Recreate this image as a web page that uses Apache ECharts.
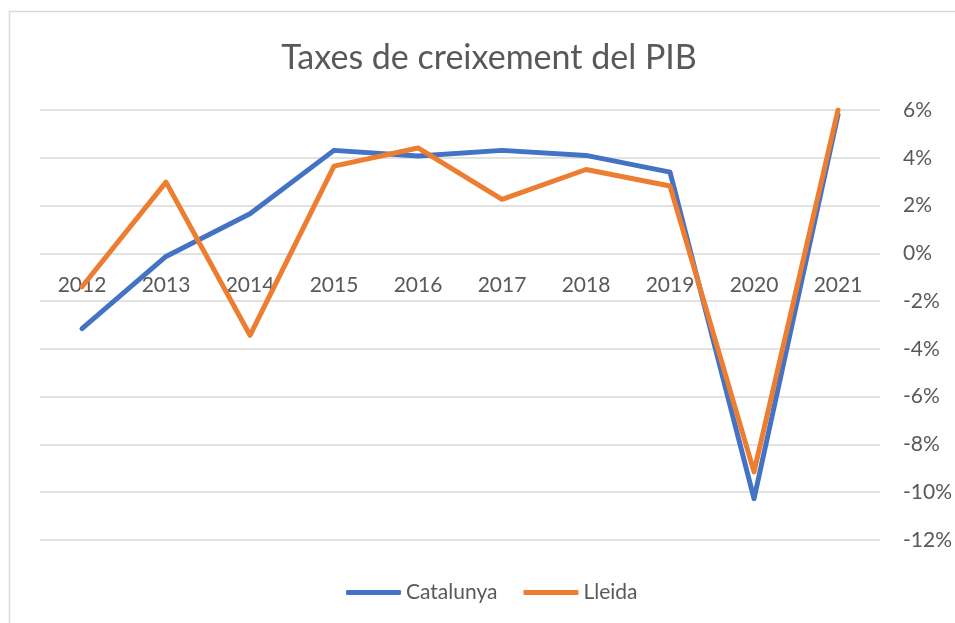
<!DOCTYPE html>
<html>
<head>
<meta charset="utf-8">
<script src="https://cdn.jsdelivr.net/npm/echarts@6/dist/echarts.min.js"></script>
<style>
  html, body { margin: 0; padding: 0; background: #fff; }
  #main { width: 955px; height: 623px; }
</style>
</head>
<body>
<div id="main"></div>
<script>
  const years = ['2012', '2013', '2014', '2015', '2016', '2017', '2018', '2019', '2020', '2021'];
  const catalunya = [-3.15, -0.13, 1.66, 4.31, 4.07, 4.31, 4.1, 3.4, -10.27, 5.8];
  const lleida = [-1.4, 2.98, -3.43, 3.65, 4.41, 2.26, 3.51, 2.82, -9.15, 6.0];

  const textColor = '#595959';
  const font = 'Lato, Carlito, Calibri, sans-serif';

  const myChart = echarts.init(document.getElementById('main'));

  // grid box: top 110, bottom 540 -> 0% line sits 6/18 of the way down
  const gridTop = 110, gridHeight = 430;
  const zeroOffset = -(gridHeight * 12 / 18);

  const option = {
    animation: false,
    textStyle: { fontFamily: font },
    graphic: [
      {
        type: 'rect',
        shape: { x: 9.5, y: 11.5, width: 1000, height: 700 },
        style: { fill: 'none', stroke: '#d9d9d9', lineWidth: 1.5 },
        silent: true
      }
    ],
    title: {
      text: 'Taxes de creixement del PIB',
      left: 484,
      textAlign: 'center',
      top: 36,
      textStyle: { color: textColor, fontSize: 34, fontWeight: 'normal', fontFamily: font }
    },
    legend: {
      top: 577,
      left: 341,
      icon: 'roundRect',
      itemWidth: 55,
      itemHeight: 5,
      itemGap: 26,
      textStyle: { color: textColor, fontSize: 21, fontFamily: font },
      data: ['Catalunya', 'Lleida']
    },
    grid: {
      left: 40,
      right: 73,
      top: gridTop,
      height: gridHeight
    },
    xAxis: {
      type: 'category',
      data: years,
      boundaryGap: true,
      offset: zeroOffset,
      axisLine: { show: false, onZero: false },
      axisTick: { show: false },
      axisLabel: { color: textColor, fontSize: 21, margin: 21, fontFamily: font },
      splitLine: { show: false }
    },
    yAxis: {
      type: 'value',
      position: 'right',
      min: -12,
      max: 6,
      interval: 2,
      axisLine: { show: false },
      axisTick: { show: false },
      axisLabel: {
        color: textColor,
        fontSize: 21,
        margin: 23,
        align: 'left',
        fontFamily: font,
        formatter: function (v) { return v + '%'; }
      },
      splitLine: { lineStyle: { color: '#d9d9d9', width: 1.5 } }
    },
    series: [
      {
        name: 'Catalunya',
        type: 'line',
        data: catalunya,
        symbol: 'none',
        color: '#4472C4',
        lineStyle: { width: 5, cap: 'round', join: 'round' }
      },
      {
        name: 'Lleida',
        type: 'line',
        data: lleida,
        symbol: 'none',
        color: '#ED7D31',
        lineStyle: { width: 5, cap: 'round', join: 'round' }
      }
    ]
  };

  myChart.setOption(option);
</script>
</body>
</html>
